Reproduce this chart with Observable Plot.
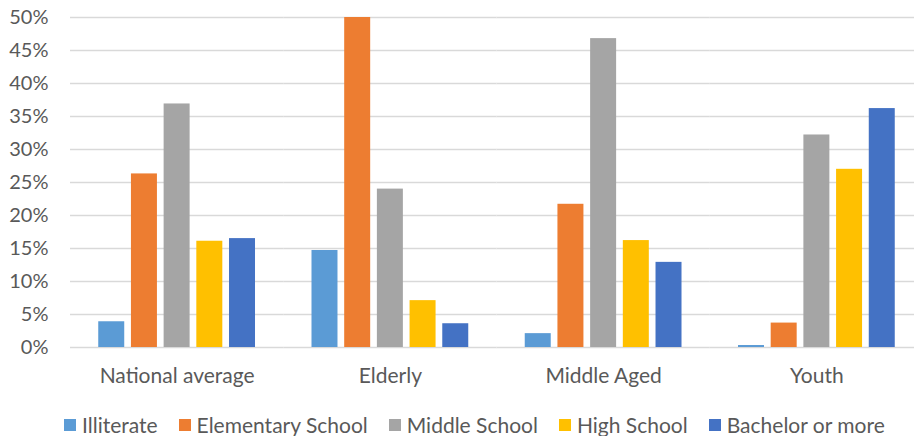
<!DOCTYPE html>
<html>
<head>
<meta charset="utf-8">
<script src="https://cdn.jsdelivr.net/npm/d3@7"></script>
<script src="https://cdn.jsdelivr.net/npm/@observablehq/plot@0.6"></script>
<style>
  body { margin: 0; background: #fff; font-family: Lato, "Open Sans", sans-serif; }
  #chart svg { display: block; }
  #legend { display: flex; align-items: center; margin-left: 64px; margin-top: 14px; height: 22px; line-height: 22px; font-size: 21px; color: #595959; white-space: nowrap; }
  #legend .item { display: flex; align-items: center; margin-right: 21px; }
  #legend .sw { width: 12px; height: 12px; margin-right: 6px; }
</style>
</head>
<body>
<div id="chart"></div>
<div id="legend"></div>
<script>
const groups = ["National average", "Elderly", "Middle Aged", "Youth"];
const series = ["Illiterate", "Elementary School", "Middle School", "High School", "Bachelor or more"];
const colors = ["#5B9BD5", "#ED7D31", "#A5A5A5", "#FFC000", "#4472C4"];
const illiterate = [3.9, 14.7, 2.1, 0.3];
const elementary = [26.3, 50.0, 21.7, 3.7];
const middleSchool = [36.9, 24.0, 46.8, 32.2];
const highSchool = [16.1, 7.1, 16.2, 27.0];
const bachelor = [16.5, 3.6, 12.9, 36.2];
const yTicks = [0, 5, 10, 15, 20, 25, 30, 35, 40, 45, 50];

const valuesBySeries = [illiterate, elementary, middleSchool, highSchool, bachelor];
const data = [];
groups.forEach((g, gi) => {
  series.forEach((s, si) => {
    data.push({group: g, series: s, value: valuesBySeries[si][gi]});
  });
});

const chart = Plot.plot({
  width: 914,
  height: 400,
  marginTop: 17,
  marginBottom: 53,
  marginLeft: 70,
  marginRight: -9,
  style: {fontFamily: "Lato, 'Open Sans', sans-serif", fontSize: "21px", color: "#595959", background: "white", overflow: "hidden"},
  fx: {domain: groups, padding: 0, round: false, label: null},
  x: {domain: series, paddingInner: 0.205, paddingOuter: 0.864, round: false, axis: null},
  y: {domain: [0, 50], label: null},
  color: {domain: series, range: colors},
  marks: [
    Plot.ruleY(yTicks, {stroke: "#D9D9D9", strokeWidth: 1.5}),
    Plot.barY(data, {fx: "group", x: "series", y: "value", fill: "series"}),
    Plot.axisY(yTicks, {tickSize: 0, tickPadding: 22, tickFormat: d => d + "%", label: null, fill: "#595959", fontSize: 20}),
    Plot.axisFx({anchor: "bottom", tickSize: 0, tickPadding: 21, label: null, fill: "#595959", fontSize: 21})
  ]
});
document.getElementById("chart").appendChild(chart);

const legend = document.getElementById("legend");
series.forEach((s, i) => {
  const item = document.createElement("div");
  item.className = "item";
  const sw = document.createElement("span");
  sw.className = "sw";
  sw.style.background = colors[i];
  const t = document.createElement("span");
  t.textContent = s;
  item.appendChild(sw);
  item.appendChild(t);
  legend.appendChild(item);
});
</script>
</body>
</html>
